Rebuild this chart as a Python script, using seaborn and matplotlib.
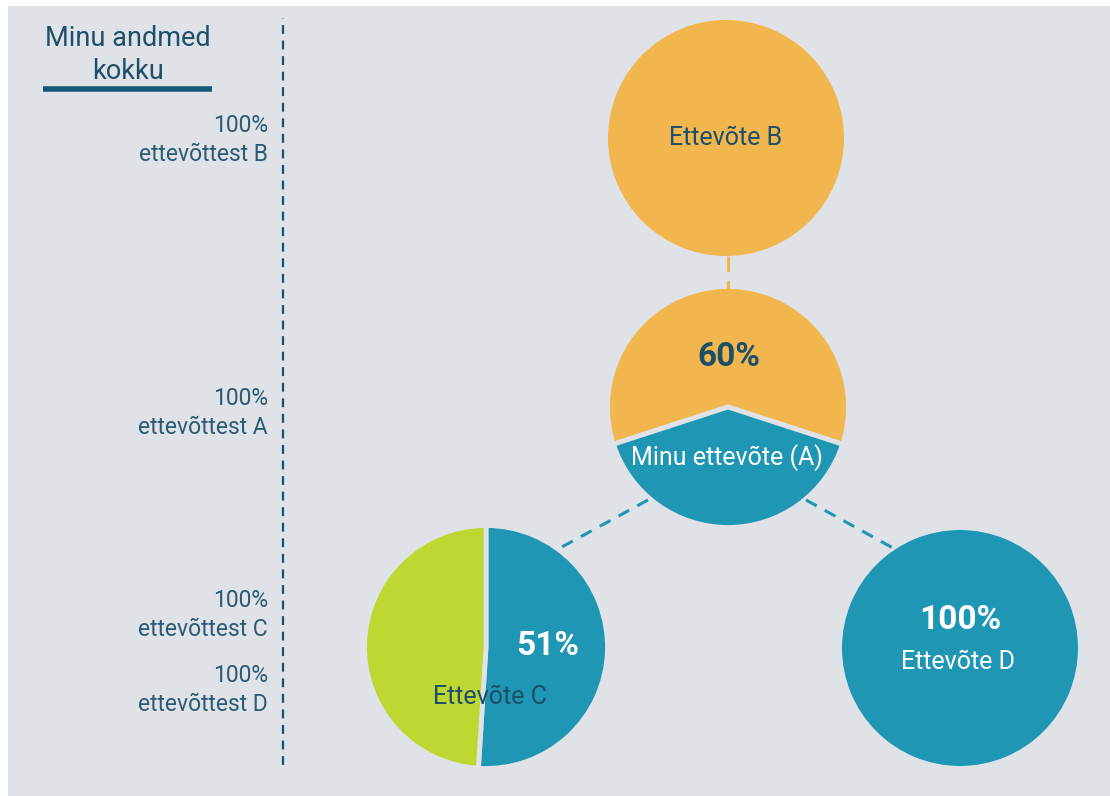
import matplotlib.pyplot as plt
import seaborn as sns
from matplotlib.patches import Rectangle

# %% Data
side_labels = ["100%\nettevõttest B", "100%\nettevõttest A", "100%\nettevõttest C", "100%\nettevõttest D"]
heading = "Minu andmed\nkokku"

company_b_share = [100]
company_a_shares = [60, 40]          # owned by B, rest
company_c_shares = [51, 49]          # owned by A, rest
company_d_share = [100]

company_a_pct = "60%"
company_c_pct = "51%"
company_d_pct = "100%"

# %% Styling
ORANGE = "#F2B64E"
BLUE = "#1E96B4"
GREEN = "#BED731"
BG = "#DFE2E7"
DARK = "#1D4F6A"
LABEL = "#2B5A74"
FONT = "Roboto"

sns.set_theme(style="white")
plt.rcParams["font.family"] = [FONT, "DejaVu Sans"]

W, H = 1110, 796
fig = plt.figure(figsize=(W / 100, H / 100), dpi=100, facecolor="white")
ax = fig.add_axes([0, 0, 1, 1])
ax.set_xlim(0, W)
ax.set_ylim(0, H)
ax.axis("off")

ax.add_patch(Rectangle((8, -5), W, 795, facecolor=BG, edgecolor="none",
                       zorder=0, clip_on=False))

# left panel
ax.text(128, 741, heading, ha="center", va="center", fontsize=19.5, color=DARK,
        linespacing=1.25)
ax.plot([43, 212], [707, 707], color="#145A74", lw=4, solid_capstyle="butt")
label_y = [656, 383, 181, 106]
for txt, y in zip(side_labels, label_y):
    ax.text(268, y, txt, ha="right", va="center", fontsize=16.5, color=LABEL,
            linespacing=1.32)
ax.plot([283, 283], [31, 778], color=DARK, lw=1.6, ls=(0, (4, 3)))

# connectors
ax.plot([728, 728], [540, 505], color=ORANGE, lw=2.2, ls=(0, (5, 3)))
ax.plot([648, 560], [296, 248], color=BLUE, lw=2.2, ls=(0, (4, 3)))
ax.plot([806, 893], [296, 248], color=BLUE, lw=2.2, ls=(0, (4, 3)))

wedge_edge = dict(edgecolor=BG, linewidth=3.5)

# company B
ax.pie(company_b_share, colors=[ORANGE], center=(726, 658), radius=118,
       frame=True, wedgeprops=dict(edgecolor="none"))
ax.text(726, 658, "Ettevõte B", ha="center", va="center", fontsize=18, color=DARK)

# company A (my company)
ax.pie(company_a_shares, colors=[ORANGE, BLUE], center=(728, 389), radius=120.5,
       startangle=-18, frame=True, wedgeprops=wedge_edge)
ax.text(729, 439, company_a_pct, ha="center", va="center", fontsize=24,
        fontweight="bold", color=DARK)
ax.text(727, 338, "Minu ettevõte (A)", ha="center", va="center", fontsize=18,
        color="white")

# company C
ax.pie(company_c_shares, colors=[BLUE, GREEN], center=(486, 149), radius=121.5,
       startangle=90, counterclock=False, frame=True, wedgeprops=wedge_edge)
ax.text(548, 150, company_c_pct, ha="center", va="center", fontsize=24,
        fontweight="bold", color="white")
ax.text(490, 99, "Ettevõte C", ha="center", va="center", fontsize=18, color=DARK)

# company D
ax.pie(company_d_share, colors=[BLUE], center=(960, 148), radius=118,
       frame=True, wedgeprops=dict(edgecolor="none"))
ax.text(960, 176, company_d_pct, ha="center", va="center", fontsize=24,
        fontweight="bold", color="white")
ax.text(958, 134, "Ettevõte D", ha="center", va="center", fontsize=18, color="white")

ax.set_xlim(0, W)
ax.set_ylim(0, H)
ax.set_aspect("auto")
ax.axis("off")

fig.savefig("out.png", dpi=100, facecolor="white")
